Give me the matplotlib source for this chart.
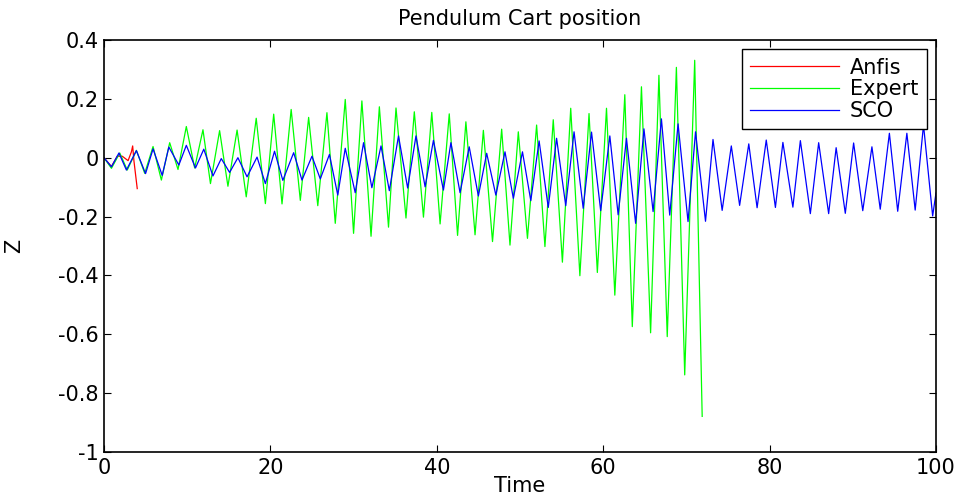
#!/usr/bin/env python3
"""
Pendulum cart position: Anfis / Expert / SCO controller responses.
Values are the turning points read off the original MATLAB figure.
"""

import matplotlib
matplotlib.use("Agg")
import matplotlib.pyplot as plt

# ── data (turning points of each trace) ──────────────────────────────────────
anfis_t = [0, 0.9, 1.6, 2.2, 2.9, 3.3, 3.45, 3.6, 4.0]
anfis_z = [0, -0.030, 0.005, 0.005, -0.010, 0.020, 0.040, -0.010, -0.105]

expert_t = [
    0, 0.9, 1.9, 2.8, 3.9, 4.9, 5.9, 6.9, 7.9, 8.9,
    9.9, 10.9, 11.9, 12.8, 13.9, 14.9, 16.0, 17.1, 18.3, 19.4,
    20.4, 21.4, 22.5, 23.6, 24.6, 25.7, 26.8, 27.8, 29.0, 30.0,
    31.0, 32.1, 33.1, 34.2, 35.1, 36.3, 37.3, 38.4, 39.4, 40.4,
    41.5, 42.5, 43.5, 44.6, 45.6, 46.7, 47.8, 48.8, 49.8, 50.9,
    52.0, 53.0, 54.0, 55.1, 56.1, 57.2, 58.3, 59.3, 60.4, 61.4,
    62.6, 63.5, 64.6, 65.7, 66.7, 67.7, 68.8, 69.8, 71.0, 71.9,
]
expert_z = [
    0, -0.036, 0.016, -0.042, 0.025, -0.053, 0.038, -0.076, 0.051, -0.040,
    0.106, -0.035, 0.095, -0.088, 0.092, -0.097, 0.094, -0.133, 0.134, -0.156,
    0.148, -0.157, 0.164, -0.145, 0.137, -0.163, 0.153, -0.223, 0.198, -0.257,
    0.193, -0.267, 0.173, -0.236, 0.169, -0.205, 0.156, -0.202, 0.154, -0.225,
    0.149, -0.264, 0.122, -0.262, 0.093, -0.285, 0.097, -0.297, 0.088, -0.274,
    0.111, -0.302, 0.129, -0.355, 0.168, -0.401, 0.150, -0.390, 0.168, -0.467,
    0.214, -0.574, 0.241, -0.595, 0.280, -0.608, 0.307, -0.738, 0.331, -0.879,
]

sco_t = [
    0, 0.9, 1.8, 2.7, 3.9, 5.0, 5.9, 7.0, 7.8, 9.0,
    9.9, 11.0, 12.0, 13.1, 14.1, 15.1, 16.1, 17.2, 18.4, 19.4,
    20.5, 21.5, 22.8, 23.8, 25.0, 26.0, 27.1, 28.1, 29.0, 30.2,
    31.2, 32.2, 33.3, 34.3, 35.4, 36.5, 37.5, 38.6, 39.6, 40.8,
    41.7, 42.8, 43.9, 45.0, 46.0, 47.1, 48.2, 49.2, 50.3, 51.3,
    52.3, 53.4, 54.4, 55.5, 56.5, 57.6, 58.6, 59.7, 60.8, 61.8,
    62.8, 63.9, 64.9, 66.0, 67.0, 68.0, 69.0, 70.2, 71.1, 72.3,
    73.2, 74.3, 75.4, 76.4, 77.5, 78.5, 79.6, 80.7, 81.6, 82.8,
    83.7, 84.9, 85.9, 87.1, 88.0, 89.1, 90.1, 91.2, 92.3, 93.3,
    94.4, 95.4, 96.5, 97.5, 98.5, 99.6, 100,
]
sco_z = [
    0, -0.031, 0.016, -0.042, 0.024, -0.054, 0.030, -0.060, 0.036, -0.025,
    0.042, -0.035, 0.029, -0.062, -0.003, -0.050, 0.000, -0.065, 0.002, -0.088,
    0.022, -0.077, 0.017, -0.076, 0.005, -0.072, 0.011, -0.127, 0.032, -0.119,
    0.051, -0.102, 0.040, -0.112, 0.074, -0.103, 0.074, -0.099, 0.059, -0.110,
    0.051, -0.119, 0.037, -0.130, 0.015, -0.127, 0.020, -0.138, 0.020, -0.146,
    0.057, -0.169, 0.066, -0.163, 0.088, -0.172, 0.087, -0.180, 0.074, -0.194,
    0.066, -0.223, 0.098, -0.183, 0.132, -0.195, 0.115, -0.217, 0.088, -0.216,
    0.062, -0.179, 0.040, -0.162, 0.047, -0.170, 0.060, -0.169, 0.052, -0.168,
    0.058, -0.190, 0.051, -0.190, 0.034, -0.189, 0.050, -0.180, 0.037, -0.175,
    0.083, -0.182, 0.083, -0.178, 0.111, -0.198, -0.120,
]

x_ticks = [0, 20, 40, 60, 80, 100]
y_ticks = [-1, -0.8, -0.6, -0.4, -0.2, 0, 0.2, 0.4]
y_tick_labels = ["-1", "-0.8", "-0.6", "-0.4", "-0.2", "0", "0.2", "0.4"]

# MATLAB default-ish look (the source image is stretched sideways,
# so the text runs a bit wider than usual)
_FONT = 15
plt.rcParams["font.family"] = ["DejaVu Sans"]


def main():
    fig = plt.figure(figsize=(9.59, 4.95), dpi=100)
    ax = fig.add_axes([0.1084, 0.0869, 0.8676, 0.8323])

    lw = 0.9
    ax.plot(anfis_t, anfis_z, color="#ff0000", lw=lw, label="Anfis")
    ax.plot(expert_t, expert_z, color="#00ff00", lw=lw, label="Expert")
    ax.plot(sco_t, sco_z, color="#0000ff", lw=lw, label="SCO")

    ax.set_xlim(0, 100)
    ax.set_ylim(-1, 0.4)
    ax.set_xticks(x_ticks)
    ax.set_yticks(y_ticks)
    ax.set_yticklabels(y_tick_labels)
    ax.tick_params(direction="in", top=True, right=True, length=5,
                   width=0.8, labelsize=_FONT, pad=4)
    for sp in ax.spines.values():
        sp.set_linewidth(1.2)

    ax.set_title("Pendulum Cart position", fontsize=_FONT, pad=11)
    ax.set_xlabel("Time", fontsize=_FONT, labelpad=-1)
    ax.set_ylabel("Z", fontsize=_FONT, labelpad=24)

    leg = ax.legend(loc="upper right", fontsize=_FONT, fancybox=False,
                    edgecolor="black", framealpha=1, handlelength=4.3,
                    handletextpad=0.5, labelspacing=0.08, borderpad=0.4,
                    borderaxespad=0.45)
    leg.get_frame().set_linewidth(1.0)

    fig.savefig("out.png", dpi=100)
    plt.close(fig)


if __name__ == "__main__":
    main()
